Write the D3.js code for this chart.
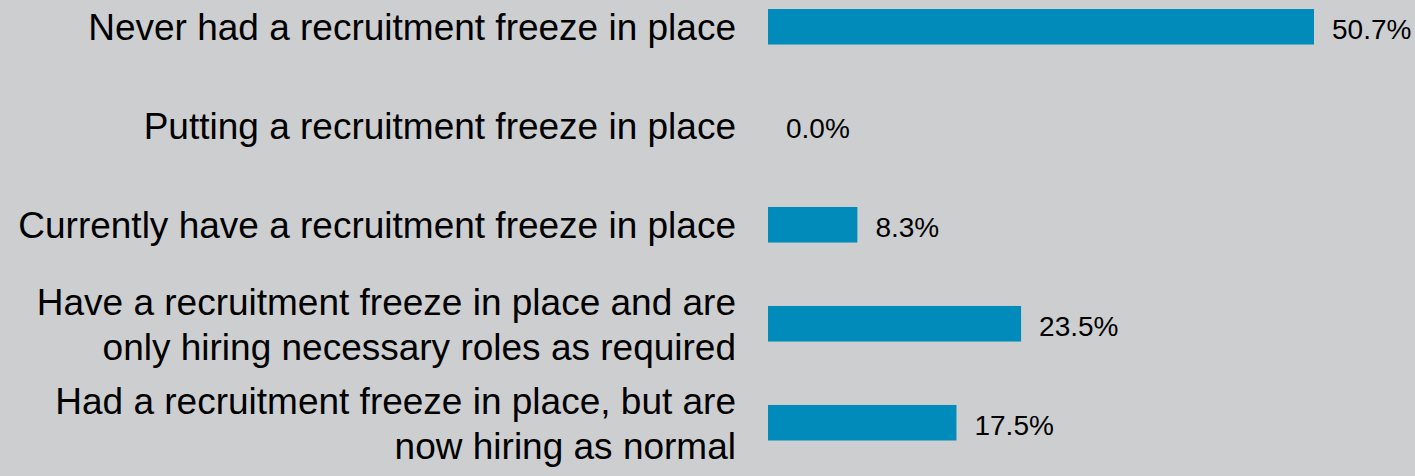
<!DOCTYPE html>
<html>
<head>
<meta charset="utf-8">
<script src="https://cdn.jsdelivr.net/npm/d3@7"></script>
<style>
    html, body { margin: 0; padding: 0; background: #cdced0; }
    svg { display: block; }
</style>
</head>
<body>
<div id="bar-chart-wrapper"></div>
<script>
// Categories (line breaks as in the original labels)
var categories = [
    "Never had a recruitment freeze in place",
    "Putting a recruitment freeze in place",
    "Currently have a recruitment freeze in place",
    "Have a recruitment freeze in place and are\nonly hiring necessary roles as required",
    "Had a recruitment freeze in place, but are\nnow hiring as normal"
];
// Share of respondents (%)
var values = [50.7, 0.0, 8.3, 23.5, 17.5];

var data = categories.map(function(c, i) { return {label: c, value: values[i]}; });

// Dimensions of canvas/graph
var width = 1415,
    height = 476,
    barLeft = 768;

var svg = d3.select("#bar-chart-wrapper")
            .append("svg")
            .attr("width", width)
            .attr("height", height);

svg.append("rect")
    .attr("width", width)
    .attr("height", height)
    .attr("fill", "#cdced0");

var x = d3.scaleLinear().domain([0, 50.7]).range([barLeft, 1314]);
var y = d3.scaleBand()
    .domain(categories)
    .range([9, 440.5])
    .paddingInner(0.641)
    .paddingOuter(0);

// Bars
svg.selectAll("rect.bar")
    .data(data)
    .enter()
    .append("rect")
    .attr("class", "bar")
    .attr("x", x(0))
    .attr("y", function(d) { return y(d.label); })
    .attr("width", function(d) { return x(d.value) - x(0); })
    .attr("height", y.bandwidth())
    .attr("fill", "#008bba");

// Value labels
svg.selectAll("text.value")
    .data(data)
    .enter()
    .append("text")
    .attr("class", "value")
    .attr("x", function(d) { return x(d.value) + 18; })
    .attr("y", function(d) { return y(d.label) + y.bandwidth() / 2 + 12; })
    .attr("font-family", "'Liberation Sans', Arial, sans-serif")
    .attr("font-size", 28)
    .attr("fill", "#000")
    .text(function(d) { return d.value.toFixed(1) + "%"; });

// Category labels, right aligned, block centred on the bar
var lineH = 45,
    capH = 27;
var labels = svg.selectAll("text.cat")
    .data(data)
    .enter()
    .append("text")
    .attr("class", "cat")
    .attr("text-anchor", "end")
    .attr("font-family", "'Liberation Sans', Arial, sans-serif")
    .attr("font-size", 37)
    .attr("fill", "#000");

labels.each(function(d) {
    var lines = d.label.split("\n");
    var mid = y(d.label) + y.bandwidth() / 2;
    var first = mid - (lines.length - 1) * lineH / 2 + capH / 2;
    d3.select(this).selectAll("tspan")
        .data(lines)
        .enter()
        .append("tspan")
        .attr("x", 736)
        .attr("y", function(l, i) { return first + i * lineH; })
        .text(function(l) { return l; });
});
</script>
</body>
</html>
